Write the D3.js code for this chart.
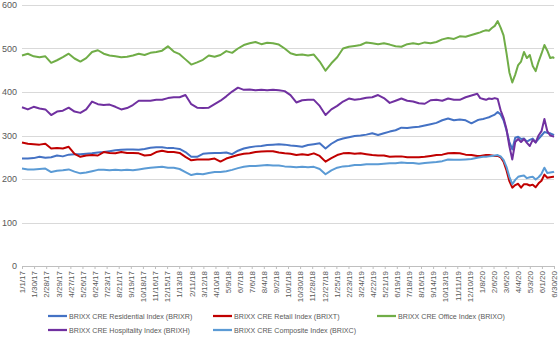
<!DOCTYPE html>
<html><head><meta charset="utf-8">
<script src="https://cdn.jsdelivr.net/npm/d3@7"></script>
<style>
html,body{margin:0;padding:0;background:#fff;}
svg{display:block;}
</style></head>
<body>
<svg id="chart" width="559" height="339"></svg>
<script>
// ---- Data ----
const seriesNames = [
  "BRIXX CRE Residential Index (BRIXR)",
  "BRIXX CRE Retail Index (BRIXT)",
  "BRIXX CRE Office Index (BRIXO)",
  "BRIXX CRE Hospitality Index (BRIXH)",
  "BRIXX CRE Composite Index (BRIXC)"
];
const seriesColors = ["#4472C4", "#C00000", "#70AD47", "#7030A0", "#5B9BD5"];

const residential = [247,247,248,251,249,250,254,252,256,257,257,258,259,261,262,264,266,267,268,268,
  267,269,272,273,273,271,271,269,262,251,251,258,259,260,260,261,257,265,270,273,
  275,276,278,279,280,279,277,276,274,278,280,282,270,281,289,293,296,299,300,302,
  305,301,305,309,312,318,317,319,320,323,326,329,335,339,335,337,335,328,335,337,
  338,340,342,345,348,354,348,335,312,285,268,295,297,292,293,286,290,293,284,292,
  300,308,306,305,302,301];
const retail = [284,281,280,279,281,270,271,270,274,258,251,254,255,254,262,260,259,262,260,260,
  259,254,255,262,265,262,262,260,251,243,245,245,245,247,240,247,251,255,258,259,
  262,263,264,264,261,259,258,255,257,255,259,253,240,248,255,259,260,258,259,257,
  255,254,254,251,252,252,250,250,250,251,253,255,256,259,260,259,256,255,253,253,
  254,255,255,254,253,253,250,240,220,195,180,186,189,180,188,188,185,187,181,190,
  196,210,203,204,205,205];
const office = [484,488,482,480,482,467,473,480,488,477,470,478,492,496,488,484,482,480,481,484,
  488,485,490,492,495,505,493,487,475,463,468,474,484,481,485,494,490,500,508,512,
  515,510,513,512,509,500,489,485,486,484,486,470,449,466,480,500,504,506,508,514,
  512,510,512,509,505,504,510,512,510,514,512,515,521,524,522,528,527,531,535,537,
  540,542,541,547,552,563,548,530,490,445,422,440,462,470,492,478,485,460,448,470,
  488,508,495,478,480,477];
const hospitality = [365,360,366,362,360,347,355,357,364,355,352,360,378,372,370,371,366,360,363,370,
  380,380,380,382,382,386,388,388,393,372,364,363,364,372,380,390,401,410,405,406,
  404,405,404,405,404,402,393,376,381,382,382,368,347,360,368,378,385,382,384,387,
  388,393,386,375,380,385,380,378,374,373,381,382,380,385,382,382,388,392,396,386,
  384,382,385,384,386,384,358,340,315,275,245,285,292,285,292,283,276,290,284,300,
  310,338,310,300,298,297];
const composite = [224,222,222,223,224,216,219,220,222,217,213,215,218,221,221,220,221,220,221,220,
  222,224,226,227,228,226,226,223,216,209,212,211,214,216,216,218,221,225,228,230,
  230,231,232,231,231,229,228,227,228,227,228,223,211,220,226,229,230,232,232,234,
  234,234,235,236,236,238,237,237,235,237,238,239,241,245,244,244,245,246,249,250,
  251,251,252,253,254,255,252,244,228,205,188,198,205,207,208,202,204,205,199,204,
  212,226,214,215,216,217];

const tickLabels = ["1/1/17","1/30/17","2/28/17","3/29/17","4/27/17","5/26/17","6/24/17","7/23/17",
  "8/21/17","9/19/17","10/18/17","11/16/17","12/15/17","1/13/18","2/11/18","3/12/18","4/10/18",
  "5/9/18","6/7/18","7/6/18","8/4/18","9/2/18","10/1/18","10/30/18","11/28/18","12/27/18",
  "1/25/19","2/23/19","3/24/19","4/22/19","5/21/19","6/19/19","7/18/19","8/16/19","9/14/19",
  "10/13/19","11/11/19","12/10/19","1/8/20","2/6/20","3/6/20","4/4/20","5/3/20","6/1/20","6/30/20"];
const yTicks = [0,100,200,300,400,500,600];

// observation dates: fortnightly through 2019, weekly in 2020
const startDate = new Date(Date.UTC(2017,0,1));
const endDate = new Date(Date.UTC(2020,5,30));
const dates = [];
for (let d = 0; d <= 1092; d += 14) dates.push(d3.utcDay.offset(startDate, d));
for (let d = 1099; d <= 1274; d += 7) dates.push(d3.utcDay.offset(startDate, d));
dates.push(endDate);

const allSeries = [residential, retail, office, hospitality, composite];

// ---- Chart ----
(function draw() {
const svg = d3.select("#chart");
const pLeft = 22, pRight = 554, pTop = 5, pBottom = 266;
const x = d3.scaleUtc().domain([startDate, endDate]).range([pLeft, pRight]);
const y = d3.scaleLinear().domain([0, 600]).range([pBottom, pTop]);
const parse = d3.utcParse("%m/%d/%y");

// gridlines
svg.append("g").selectAll("line").data(yTicks.filter(t => t > 0)).join("line")
  .attr("x1", pLeft).attr("x2", pRight)
  .attr("y1", d => Math.round(y(d)) + 0.5).attr("y2", d => Math.round(y(d)) + 0.5)
  .attr("stroke", "#D9D9D9").attr("stroke-width", 1);

// y labels
svg.append("g").selectAll("text").data(yTicks).join("text")
  .attr("x", 17).attr("y", d => y(d)).attr("dy", "0.35em")
  .attr("text-anchor", "end")
  .attr("font-family", "Liberation Sans, Arial, sans-serif").attr("font-size", 9)
  .attr("fill", "#595959").text(d => d);

// x axis
const xAxis = d3.axisBottom(x)
  .tickValues(tickLabels.map(t => parse(t)))
  .tickSize(3).tickSizeOuter(0)
  .tickFormat((d, i) => tickLabels[i]);
const gx = svg.append("g").attr("transform", `translate(0,${pBottom})`).call(xAxis);
gx.select(".domain").attr("stroke", "#BFBFBF");
gx.selectAll(".tick line").attr("stroke", "#BFBFBF");
gx.selectAll(".tick text")
  .attr("font-family", "Liberation Sans, Arial, sans-serif").attr("font-size", 8)
  .attr("fill", "#595959")
  .attr("transform", "rotate(-90)")
  .attr("text-anchor", "end")
  .attr("x", -5).attr("y", 0).attr("dy", "0.35em");

// lines
const line = d3.line().x((d, i) => x(dates[i])).y(d => y(d));
svg.append("g").selectAll("path").data(allSeries).join("path")
  .attr("d", d => line(d))
  .attr("fill", "none")
  .attr("stroke", (d, i) => seriesColors[i])
  .attr("stroke-width", 2)
  .attr("stroke-linejoin", "round");

// legend
const legendPos = [[48,316],[213,316],[377,316],[48,330],[213,330]];
const lg = svg.append("g").selectAll("g").data(seriesNames).join("g")
  .attr("transform", (d, i) => `translate(${legendPos[i][0]},${legendPos[i][1]})`);
lg.append("line").attr("x1", 0).attr("x2", 19).attr("y1", 0).attr("y2", 0)
  .attr("stroke", (d, i) => seriesColors[i]).attr("stroke-width", 2.25);
lg.append("text").attr("x", 0).attr("y", 0).attr("dy", "0.35em")
  .attr("transform", "translate(21,0) scale(0.89,1)")
  .attr("font-family", "Liberation Sans, Arial, sans-serif").attr("font-size", 8)
  .attr("fill", "#595959").text(d => d);
})();
</script>
</body></html>
